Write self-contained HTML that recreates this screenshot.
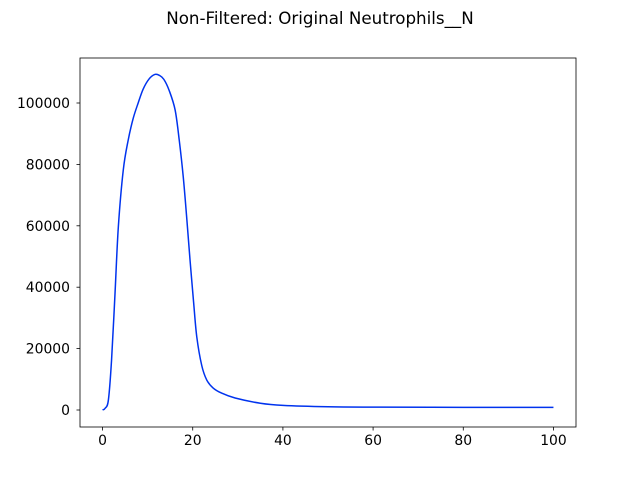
<!DOCTYPE html>
<html><head><meta charset="utf-8"><style>
body{margin:0;background:#fff;}
svg text{font-family:"DejaVu Sans","Liberation Sans",sans-serif;font-size:13.9px;fill:#000;}
</style></head><body>
<svg id="chart" width="640" height="480">
<rect width="640" height="480" fill="#fff"/>
<text x="320" y="24" text-anchor="middle" style="font-size:16.7px">Non-Filtered: Original Neutrophils__N</text>
<g id="axes"></g>
</svg>
<script>
const xs=[0,0.6,1.3,2.0,2.77,3.5,4.6,5.7,6.8,7.9,9.0,10.3,11.6,12.6,13.6,14.8,16.1,17.0,17.9,18.7,19.4,20.2,20.9,22.0,23.1,24.5,26.4,29.4,35,40,50,60,80,100];
const ys=[0,600,3300,16300,38100,59600,78200,88000,95000,100000,104500,107800,109300,109000,107700,104000,97700,88000,75900,62000,48900,35000,23800,14500,9800,7200,5500,3900,2200,1500,1050,930,870,850];
const xTicks=[0,20,40,60,80,100];
const yTicks=[0,20000,40000,60000,80000,100000];
const L=80,R=576,T=58,B=427;
const X=v=>L+(v+5)/110*(R-L);
const Y=v=>410-v/100000*307;
const g=document.getElementById('axes');
const NS='http://www.w3.org/2000/svg';
function mk(t,a){const e=document.createElementNS(NS,t);for(const k in a)e.setAttribute(k,a[k]);g.appendChild(e);return e;}
const P=xs.map((x,i)=>[X(x),Y(ys[i])]);
let d='M'+P[0][0]+','+P[0][1];
for(let i=0;i<P.length-1;i++){
 const p0=P[Math.max(0,i-1)],p1=P[i],p2=P[i+1],p3=P[Math.min(P.length-1,i+2)];
 const c1=[p1[0]+(p2[0]-p0[0])/6,p1[1]+(p2[1]-p0[1])/6];
 const c2=[p2[0]-(p3[0]-p1[0])/6,p2[1]-(p3[1]-p1[1])/6];
 d+='C'+c1.join(',')+' '+c2.join(',')+' '+p2.join(',');
}
const line=mk('path',{d:d,fill:'none',stroke:'#0033ee','stroke-width':1.5,'stroke-linejoin':'round'});


const frame=mk('rect',{x:L,y:T,width:R-L,height:B-T,fill:'none',stroke:'#000','stroke-width':0.8});


xTicks.forEach(v=>{const x=X(v);
 const t=mk('line',{x1:x,x2:x,y1:B,y2:B+3.5,stroke:'#000','stroke-width':0.8});
 
 
 const l=mk('text',{x:x,y:B+18,'text-anchor':'middle'});l.textContent=v;
 
 
});
yTicks.forEach(v=>{const y=Y(v);
 const t=mk('line',{x1:L-3.5,x2:L,y1:y,y2:y,stroke:'#000','stroke-width':0.8});
 
 
 const l=mk('text',{x:L-10,y:y+5,'text-anchor':'end'});l.textContent=v;
 
 
});
</script>
</body></html>
